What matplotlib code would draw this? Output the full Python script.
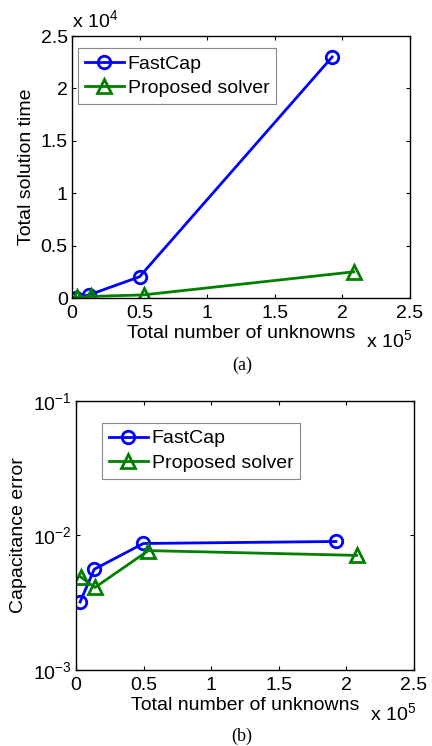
import numpy as np
import matplotlib
matplotlib.use('Agg')
import matplotlib.pyplot as plt

plt.rcParams['font.family'] = ['Liberation Sans', 'DejaVu Sans']
plt.rcParams['mathtext.fontset'] = 'custom'
plt.rcParams['mathtext.rm'] = 'Liberation Sans'
plt.rcParams['mathtext.it'] = 'Liberation Sans'

# (a) total solution time
fc_n_a = [0.03, 0.126, 0.50, 1.925]          # x 1e5
fc_time = [0.005, 0.03, 0.203, 2.30]         # x 1e4
ps_n_a = [0.035, 0.14, 0.53, 2.085]
ps_time = [0.01, 0.015, 0.03, 0.25]

# (b) capacitance error
fc_n_b = [0.03, 0.135, 0.498, 1.923]
fc_err = [3.2e-3, 5.6e-3, 8.7e-3, 9.0e-3]
ps_n_b = [0.035, 0.14, 0.535, 2.076]
ps_err = [4.9e-3, 4.1e-3, 7.7e-3, 7.1e-3]

xticks = [0, 0.5, 1, 1.5, 2, 2.5]
xtick_labels = ['0', '0.5', '1', '1.5', '2', '2.5']

blue = '#0000ff'
green = '#007f00'
fs = 14

fig = plt.figure(figsize=(4.32, 7.46), dpi=100)

def style(ax):
    ax.tick_params(direction='in', top=True, right=True, labelsize=fs,
                   length=3, width=0.8)
    ax.tick_params(axis='x', pad=5)
    ax.tick_params(axis='y', pad=3)
    for s in ax.spines.values():
        s.set_linewidth(1.0)

def add_legend(ax, **kw):
    leg = ax.legend(fontsize=fs, fancybox=False, edgecolor='#888888',
                    handlelength=2.0, handletextpad=0.2, labelspacing=0.35,
                    borderpad=0.35, borderaxespad=0, framealpha=1, **kw)
    leg.get_frame().set_linewidth(0.8)
    return leg

# ---- (a)
ax1 = fig.add_axes([0.1667, 0.6005, 0.782, 0.3512])
ax1.plot(fc_n_a, fc_time, '-o', color=blue, lw=2, ms=9, mfc='none', mew=2,
         label='FastCap')
ax1.plot(ps_n_a, ps_time, '-^', color=green, lw=2, ms=10, mfc='none', mew=2,
         label='Proposed solver')
ax1.set_xlim(0, 2.5)
ax1.set_ylim(0, 2.5)
ax1.set_xticks(xticks)
ax1.set_xticklabels(xtick_labels)
ax1.set_yticks([0, 0.5, 1, 1.5, 2, 2.5])
ax1.set_yticklabels(['0', '0.5', '1', '1.5', '2', '2.5'])
ax1.set_xlabel('Total number of unknowns', fontsize=fs, labelpad=2)
ax1.set_ylabel('Total solution time', fontsize=fs, labelpad=4)
style(ax1)
add_legend(ax1, loc='upper left', bbox_to_anchor=(0.018, 0.954))
ax1.text(0.0, 1.02, r'x 10$^4$', transform=ax1.transAxes, fontsize=fs,
         ha='left', va='bottom')
ax1.text(0.87, -0.12, r'x 10$^5$', transform=ax1.transAxes, fontsize=fs,
         ha='left', va='top')
fig.text(0.56, 0.51, '(a)', family='Liberation Serif', fontsize=13,
         ha='center', va='center')

# ---- (b)
ax2 = fig.add_axes([0.176, 0.1019, 0.782, 0.361])
ax2.semilogy(fc_n_b, fc_err, '-o', color=blue, lw=2, ms=9, mfc='none', mew=2,
             label='FastCap')
ax2.semilogy(ps_n_b, ps_err, '-^', color=green, lw=2, ms=10, mfc='none', mew=2,
             label='Proposed solver')
ax2.set_xlim(0, 2.5)
ax2.set_ylim(1e-3, 1e-1)
ax2.set_xticks(xticks)
ax2.set_xticklabels(xtick_labels)
ax2.set_yticks([1e-3, 1e-2, 1e-1])
ax2.set_yticklabels([r'10$^{-3}$', r'10$^{-2}$', r'10$^{-1}$'])
ax2.minorticks_off()
ax2.set_xlabel('Total number of unknowns', fontsize=fs, labelpad=2)
ax2.set_ylabel('Capacitance error', fontsize=fs, labelpad=4)
style(ax2)
add_legend(ax2, loc='upper left', bbox_to_anchor=(0.077, 0.917))
ax2.text(0.87, -0.12, r'x 10$^5$', transform=ax2.transAxes, fontsize=fs,
         ha='left', va='top')
fig.text(0.56, 0.002, '(b)', family='Liberation Serif', fontsize=13,
         ha='center', va='bottom')

fig.savefig('out.png', dpi=100)
